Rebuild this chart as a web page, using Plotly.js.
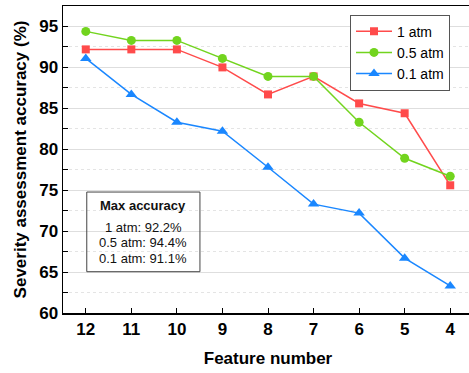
<!DOCTYPE html>
<html><head><meta charset="utf-8">
<script src="https://cdn.plot.ly/plotly-3.0.1.min.js"></script>
<style>html,body{margin:0;padding:0;overflow:hidden;background:#fff}</style>
</head><body><div id="plot"></div>
<script>
const features = [12, 11, 10, 9, 8, 7, 6, 5, 4];
const acc1atm  = [92.2, 92.2, 92.2, 90.0, 86.7, 88.9, 85.6, 84.4, 75.6];
const acc05atm = [94.4, 93.3, 93.3, 91.1, 88.9, 88.9, 83.3, 78.9, 76.7];
const acc01atm = [91.1, 86.7, 83.3, 82.2, 77.8, 73.3, 72.2, 66.7, 63.3];
const seriesNames = ['1 atm', '0.5 atm', '0.1 atm'];
const maxLines = ['1 atm: 92.2%', '0.5 atm: 94.4%', '0.1 atm: 91.1%'];

const F = 'Arial, "Liberation Sans", sans-serif';
const traces = [
  {x: features, y: acc1atm, name: seriesNames[0], mode: 'lines+markers',
   line: {color: '#ff4b4b', width: 1.5}, marker: {symbol: 'square', size: 8, color: '#ff4b4b'}},
  {x: features, y: acc05atm, name: seriesNames[1], mode: 'lines+markers',
   line: {color: '#72d41e', width: 1.5}, marker: {symbol: 'circle', size: 9, color: '#72d41e'}},
  {x: features, y: acc01atm, name: seriesNames[2], mode: 'lines+markers',
   line: {color: '#1a87ff', width: 1.5}, marker: {symbol: 'triangle-up', size: 10, color: '#1a87ff'}}
];

const annotations = [{
  xref: 'paper', yref: 'paper', x: 0.196, y: (313 - 205) / 307, text: '<b>Max accuracy</b>',
  xanchor: 'center', yanchor: 'middle',
  showarrow: false, font: {family: F, size: 13, color: '#111'}
}];
maxLines.forEach((t, i) => annotations.push({
  xref: 'paper', yref: 'paper', x: 0.196, y: (313 - (227 + 15.8 * i)) / 307, text: t,
  xanchor: 'center', yanchor: 'middle',
  showarrow: false, font: {family: F, size: 13, color: '#111'}
}));

const layout = {
  width: 473, height: 373,
  margin: {l: 63, r: 0, t: 6, b: 60},
  paper_bgcolor: '#fff', plot_bgcolor: '#fff',
  font: {family: F, color: '#000'},
  showlegend: true,
  legend: {x: 0.7, y: 0.972, xanchor: 'left', yanchor: 'top',
    bordercolor: '#555', borderwidth: 1, bgcolor: '#fff',
    font: {family: F, size: 14, color: '#000'}, tracegroupgap: 0, itemwidth: 36},
  xaxis: {
    range: [12.5, 3.5], tickmode: 'array', tickvals: features, ticktext: features.map(String),
    ticks: 'inside', ticklen: 5, tickcolor: '#000', showline: true, linecolor: '#000', linewidth: 1.5,
    mirror: true, showgrid: false, zeroline: false,
    tickfont: {family: F, size: 17, color: '#000', weight: 'bold'},
    title: {text: '<b>Feature number</b>', font: {family: F, size: 17, color: '#000'}, standoff: 14}
  },
  yaxis: {
    range: [60, 97.5], dtick: 5, tick0: 60, ticks: 'inside', ticklen: 5, tickcolor: '#000',
    showline: true, linecolor: '#000', linewidth: 1.5, mirror: true,
    showgrid: true, gridcolor: '#dedede', gridwidth: 1, zeroline: false,
    minor: {dtick: 2.5, tick0: 60, ticks: 'inside', ticklen: 5, tickcolor: '#000', showgrid: true,
      gridcolor: '#e4e4e4', griddash: 'dot'},
    tickfont: {family: F, size: 17, color: '#000', weight: 'bold'},
    title: {text: '<b>Severity assessment accuracy (%)</b>', font: {family: F, size: 17, color: '#000'}, standoff: 8}
  },
  shapes: [{type: 'rect', xref: 'paper', yref: 'paper', x0: 0.058, x1: 0.334, y0: 0.1345, y1: 0.394,
    line: {color: '#444', width: 1}, fillcolor: 'rgba(255,255,255,0)'}],
  annotations: annotations
};
Plotly.newPlot('plot', traces, layout, {displayModeBar: false, staticPlot: true});
</script></body></html>
